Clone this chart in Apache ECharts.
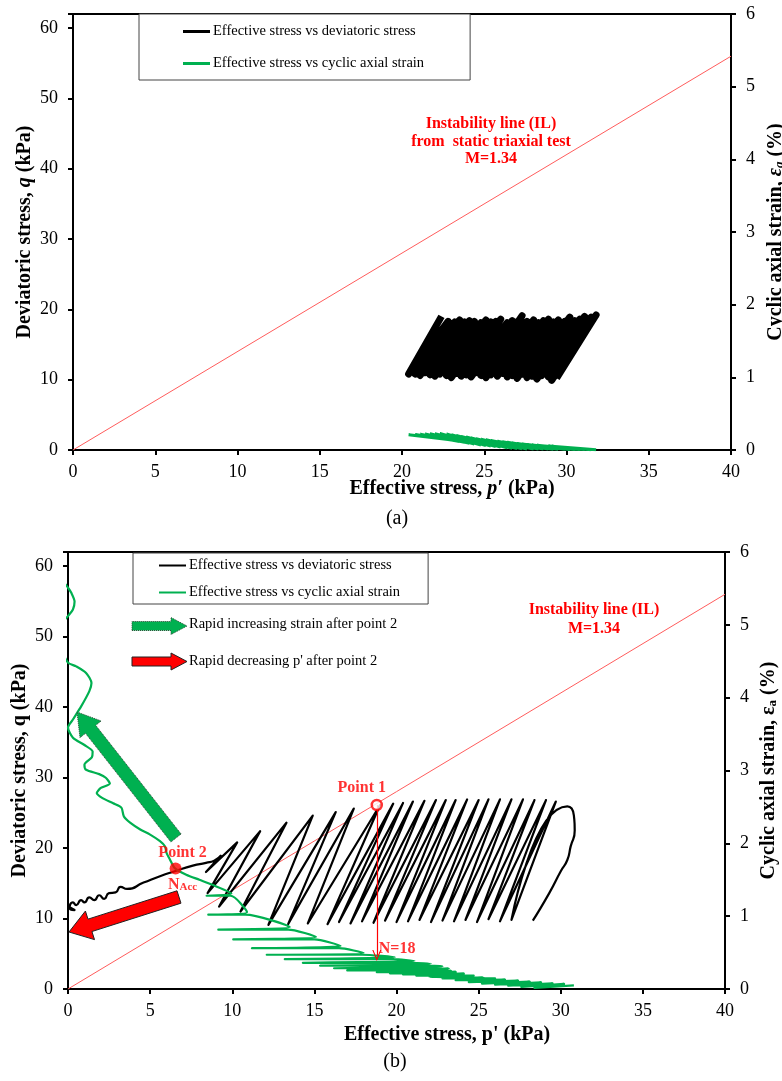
<!DOCTYPE html>
<html>
<head>
<meta charset="utf-8">
<script src="https://cdn.jsdelivr.net/npm/echarts@6/dist/echarts.min.js"></script>
<style>
  html, body { margin: 0; padding: 0; background: #fff; }
  #main { width: 782px; height: 1081px; }
</style>
</head>
<body>
<div id="main"></div>
<script>
// ---- shared ----
const SERIF = '"Liberation Serif", "Times New Roman", serif';
const nameBlack = 'Effective stress vs deviatoric stress';
const nameGreen = 'Effective stress vs cyclic axial strain';
const ilP = [0, 40];
const ilQ = [0, 56];

// ---- panel (a): cycles, p' and q at peaks and troughs ----
const aPeakP = [31.8, 31.5, 31.1, 30.8, 30.5, 30.2, 29.9, 29.5, 29.2, 28.9, 28.6, 28.3, 28.0, 27.6, 27.3, 27.0, 26.7, 26.4, 26.0, 25.7, 25.4, 25.1, 24.8, 24.4, 24.1, 23.8, 23.5, 23.2, 22.8, 22.4];
const aPeakQ = [19.2, 18.9, 19.0, 18.6, 18.4, 18.9, 18.3, 18.5, 18.2, 18.6, 18.4, 18.1, 18.5, 18.3, 19.1, 18.2, 18.4, 18.1, 18.6, 18.3, 18.2, 18.5, 18.1, 18.3, 18.4, 18.2, 18.5, 18.2, 18.3, 19.0];
const aTroughP = [29.4, 29.1, 28.9, 28.5, 28.2, 27.9, 27.6, 27.3, 27.0, 26.7, 26.4, 26.1, 25.8, 25.4, 25.1, 24.8, 24.5, 24.2, 23.9, 23.6, 23.3, 23.0, 22.7, 22.3, 22.0, 21.7, 21.4, 21.1, 20.8, 20.4];
const aTroughQ = [10.2, 9.9, 10.4, 10.6, 10.1, 10.5, 10.3, 10.8, 10.2, 10.6, 10.4, 10.9, 10.5, 10.7, 10.3, 10.6, 11.0, 10.4, 10.7, 10.5, 10.9, 10.3, 10.6, 10.8, 10.5, 10.7, 11.0, 10.6, 10.8, 10.8];
// cyclic axial strain (%) at the same trough / peak points
const aStrainTrough = [0.046, 0.05, 0.054, 0.06, 0.064, 0.069, 0.075, 0.083, 0.09, 0.098, 0.106, 0.114, 0.122, 0.132, 0.14, 0.147, 0.157, 0.167, 0.178, 0.188, 0.199, 0.209, 0.22, 0.229, 0.226, 0.223, 0.22, 0.217, 0.213, 0.21];
const aStrainPeak = [0.004, 0.004, 0.006, 0.006, 0.008, 0.008, 0.01, 0.01, 0.01, 0.012, 0.012, 0.012, 0.012, 0.014, 0.016, 0.02, 0.025, 0.032, 0.041, 0.047, 0.054, 0.061, 0.068, 0.082, 0.093, 0.105, 0.117, 0.129, 0.144, 0.16];

// ---- panel (b): stress path ----
const bRiseP = [28.3, 29.3, 30.0, 30.4, 30.6, 30.85, 30.8];
const bRiseQ = [9.7, 13.6, 16.7, 18.3, 20.2, 22.5, 24.6];
const bPeakP = [30.4, 29.7, 29.1, 28.4, 27.7, 27.0, 26.3, 25.6, 25.0, 24.3, 23.6, 23.0, 22.4, 21.7, 21.0, 20.4, 19.8, 19.0, 17.4, 16.3, 14.9, 13.3, 11.7, 10.3, 9.3];
const bPeakQ = [25.9, 26.6, 26.8, 26.8, 26.9, 26.9, 26.9, 26.9, 26.8, 26.9, 26.8, 26.8, 26.8, 26.7, 26.6, 26.4, 26.3, 26.1, 25.6, 25.1, 24.6, 23.6, 22.4, 20.8, 18.9];
const bTroughP = [27.0, 26.3, 25.6, 24.9, 24.2, 23.5, 22.8, 22.1, 21.4, 20.7, 20.0, 19.3, 18.6, 17.9, 17.2, 16.5, 15.8, 14.6, 13.4, 12.2, 10.5, 9.2, 8.5, 8.4];
const bTroughQ = [9.8, 9.6, 9.9, 9.5, 9.8, 9.6, 9.7, 9.5, 9.8, 9.6, 9.5, 9.7, 9.4, 9.6, 9.3, 9.5, 9.2, 9.3, 9.2, 9.1, 11.0, 11.7, 13.6, 16.6];
const bTailP = [8.9, 8.4, 7.6, 6.5, 5.6, 4.6, 3.6, 3.2, 2.9, 2.5, 2.2, 1.9, 1.6, 1.3, 1.0, 0.8, 0.5, 0.3, 0.1, 0.4, 0.1];
const bTailQ = [18.2, 17.9, 17.5, 16.7, 16.0, 15.1, 14.2, 14.5, 13.7, 13.6, 12.8, 13.3, 12.6, 13.0, 12.3, 12.6, 11.9, 12.3, 11.5, 11.2, 11.6];

// ---- panel (b): strain path ----
const gBandP = [30.8, 28.4, 30.2, 27.6, 29.5, 26.8, 28.8, 26.0, 28.1, 25.2, 27.4, 24.4, 26.6, 23.6, 26.0, 22.8, 25.3, 22.0, 24.7, 21.2, 24.1, 20.4, 23.6, 19.6, 23.3, 18.8];
const gBandS = [0.05, 0.015, 0.07, 0.03, 0.078, 0.045, 0.09, 0.06, 0.10, 0.075, 0.115, 0.095, 0.13, 0.12, 0.145, 0.145, 0.16, 0.165, 0.185, 0.185, 0.21, 0.2, 0.235, 0.215, 0.25, 0.23];
const gEnvP = [23.1, 22.7, 22.0, 21.0, 19.8, 17.9, 16.5, 15.0, 13.4, 10.8, 9.9];
const gLevel = [0.255, 0.285, 0.32, 0.36, 0.41, 0.47, 0.56, 0.68, 0.815, 1.02, 1.28];
const gTipP = [17.0, 16.2, 15.35, 14.3, 13.2, 12.1, 11.2, 10.06, 9.15, 8.54, 8.44];
const gRetP = [23.2, 22.8, 22.1, 21.1, 19.9, 18.0, 16.6, 15.1, 13.5, 10.9, 9.95];
const gRetS = [0.28, 0.31, 0.345, 0.385, 0.435, 0.495, 0.59, 0.715, 0.85, 1.055, 1.31];
const gRiseP = [8.8, 8.0, 7.2, 6.5, 6.2, 6.0, 5.9, 5.6, 5.0, 4.4, 3.8, 3.4, 3.25, 2.75, 2.1, 1.75, 2.0, 2.55, 2.3, 1.9, 1.1, 1.0, 1.45, 1.5, 1.0, 0.3, 0.0, 0.3, 0.8, 1.3, 1.43, 1.1, 0.5, 0.0, -0.4, -0.4, 0.0, 0.3, 0.4, 0.2, 0.0, -0.3];
const gRiseS = [1.43, 1.50, 1.57, 1.66, 1.78, 1.87, 1.96, 2.03, 2.12, 2.19, 2.28, 2.37, 2.49, 2.55, 2.62, 2.69, 2.76, 2.82, 2.90, 2.95, 3.01, 3.08, 3.18, 3.26, 3.35, 3.45, 3.59, 3.70, 3.88, 4.09, 4.20, 4.34, 4.43, 4.48, 4.70, 5.00, 5.12, 5.21, 5.32, 5.44, 5.51, 5.60];

// marked points (p', q) and strain at N=18
const point1 = [18.8, 26.1];
const point2 = [6.55, 17.1];
const n18Strain = 0.46;

// ---- build paths ----
function pairs(xs, ys) {
    return xs.map(function (x, i) { return [x, ys[i]]; });
}

function zigzag(tp, tq, pp, pq) {
    const pts = [];
    for (let i = 0; i < tp.length; i++) {
        pts.push([tp[i], tq[i]]);
        pts.push([pp[i], pq[i]]);
    }
    return pts;
}

const aBlack = zigzag(aTroughP, aTroughQ, aPeakP, aPeakQ);
const aGreen = zigzag(aTroughP, aStrainTrough, aPeakP, aStrainPeak);

const bBlack = pairs(bRiseP, bRiseQ);
for (let i = 0; i < bPeakP.length; i++) {
    bBlack.push([bPeakP[i], bPeakQ[i]]);
    if (i < bTroughP.length) bBlack.push([bTroughP[i], bTroughQ[i]]);
}
pairs(bTailP, bTailQ).forEach(function (pt) { bBlack.push(pt); });

const bGreen = pairs(gBandP, gBandS);
for (let i = 0; i < gEnvP.length; i++) {
    bGreen.push([gEnvP[i], gLevel[i]]);
    bGreen.push([gTipP[i], gLevel[i]]);
    bGreen.push([gRetP[i], gRetS[i]]);
}
pairs(gRiseP, gRiseS).forEach(function (pt) { bGreen.push(pt); });

// ---- chart ----
function blockArrow(x1, y1, x2, y2, bodyW, headW, headL) {
    const dx = x2 - x1, dy = y2 - y1, len = Math.hypot(dx, dy);
    const ux = dx / len, uy = dy / len, nx = -uy, ny = ux;
    const bx = x2 - ux * headL, by = y2 - uy * headL;
    return [
        [x1 + nx * bodyW / 2, y1 + ny * bodyW / 2],
        [bx + nx * bodyW / 2, by + ny * bodyW / 2],
        [bx + nx * headW / 2, by + ny * headW / 2],
        [x2, y2],
        [bx - nx * headW / 2, by - ny * headW / 2],
        [bx - nx * bodyW / 2, by - ny * bodyW / 2],
        [x1 - nx * bodyW / 2, y1 - ny * bodyW / 2]
    ];
}

const titleRich = {
    b: { fontFamily: SERIF, fontWeight: 'bold', fontSize: 20, color: '#000' },
    i: { fontFamily: SERIF, fontWeight: 'bold', fontStyle: 'italic', fontSize: 20, color: '#000' },
    s: { fontFamily: SERIF, fontWeight: 'bold', fontStyle: 'italic', fontSize: 13, color: '#000', verticalAlign: 'bottom' },
    su: { fontFamily: SERIF, fontWeight: 'bold', fontSize: 13, color: '#000', verticalAlign: 'bottom' }
};

function axisBase(grid) {
    return {
        type: 'value',
        gridIndex: grid,
        nameMoveOverlap: false,
        axisLine: { show: true, onZero: false, lineStyle: { color: '#000', width: 2 } },
        axisTick: { show: true, inside: false, length: 5, lineStyle: { color: '#000', width: 2 } },
        splitLine: { show: false },
        axisLabel: { color: '#000', fontFamily: SERIF, fontSize: 18, margin: 13 },
        nameTextStyle: { rich: titleRich }
    };
}

function xAxisFor(grid, name, gap, shift) {
    const ax = axisBase(grid);
    ax.min = 0; ax.max = 40; ax.interval = 5;
    ax.name = name;
    ax.nameLocation = 'middle';
    ax.nameGap = gap;
    ax.nameTextStyle = { rich: titleRich, padding: [0, 0, 0, shift] };
    return ax;
}

function qAxisFor(grid, name, gap) {
    const ax = axisBase(grid);
    ax.min = 0; ax.max = 62; ax.interval = 10;
    ax.position = 'left';
    ax.axisLabel.margin = 15;
    ax.axisLabel.formatter = function (v) { return v % 10 === 0 ? String(v) : ''; };
    ax.name = name;
    ax.nameLocation = 'middle';
    ax.nameGap = gap;
    ax.nameRotate = 90;
    return ax;
}

function strainAxisFor(grid, name, gap) {
    const ax = axisBase(grid);
    ax.min = 0; ax.max = 6; ax.interval = 1;
    ax.position = 'right';
    ax.axisLabel.margin = 15;
    ax.name = name;
    ax.nameLocation = 'middle';
    ax.nameGap = gap;
    ax.nameRotate = 90;
    return ax;
}

const red = '#ff0000';
const ilColor = '#ff5c5c';
const green = '#00b050';

function redText(x, y, text, size) {
    return {
        type: 'text', x: x, y: y, z: 20,
        style: {
            text: text, fill: red, align: 'center', verticalAlign: 'middle',
            font: 'bold ' + (size || 16) + 'px ' + SERIF
        }
    };
}

function plainText(x, y, text, size, align) {
    return {
        type: 'text', x: x, y: y, z: 20,
        style: {
            text: text, fill: '#000', align: align || 'left', verticalAlign: 'middle',
            font: (size || 14.5) + 'px ' + SERIF
        }
    };
}

let myChart = echarts.init(document.getElementById('main'), null, { renderer: 'canvas' });

let option = {
    backgroundColor: '#fff',
    animation: false,
    grid: [
        { left: 73, top: 14, width: 658, height: 436, show: true, borderColor: '#000', borderWidth: 2, containLabel: false, outerBoundsMode: 'none' },
        { left: 68, top: 552, width: 657, height: 437, show: true, borderColor: '#000', borderWidth: 2, containLabel: false, outerBoundsMode: 'none' }
    ],
    xAxis: [
        xAxisFor(0, '{b|Effective stress, }{i|p′}{b| (kPa)}', 29, 100),
        xAxisFor(1, "{b|Effective stress, p' (kPa)}", 36, 101)
    ],
    yAxis: [
        qAxisFor(0, '{b|Deviatoric stress, }{i|q}{b| (kPa)}', 38),
        strainAxisFor(0, '{b|Cyclic axial strain, }{i|ε}{s|a}{b| (%)}', 35),
        qAxisFor(1, '{b|Deviatoric stress, q (kPa)}', 38),
        strainAxisFor(1, '{b|Cyclic axial strain, ε}{su|a}{b| (%)}', 34)
    ],
    legend: [
        {
            left: 139, top: 14, orient: 'vertical',
            data: [nameBlack, nameGreen],
            icon: 'rect', itemWidth: 27, itemHeight: 3, itemGap: 17,
            padding: [10, 46, 9, 44],
            borderColor: '#444', borderWidth: 1, backgroundColor: '#fff',
            selectedMode: false,
            textStyle: { fontFamily: SERIF, fontSize: 14.5, color: '#000', padding: [0, 0, 0, -2] }
        },
        {
            left: 133, top: 553, orient: 'vertical',
            data: [nameBlack, nameGreen],
            icon: 'rect', itemWidth: 27, itemHeight: 2, itemGap: 12,
            padding: [5, 28, 4, 26],
            borderColor: '#444', borderWidth: 1, backgroundColor: '#fff',
            selectedMode: false,
            textStyle: { fontFamily: SERIF, fontSize: 14.5, color: '#000', padding: [0, 0, 0, -2] }
        }
    ],
    series: [
        // panel (a)
        {
            name: 'IL a', type: 'line', xAxisIndex: 0, yAxisIndex: 0,
            data: pairs(ilP, ilQ), symbol: 'none',
            lineStyle: { color: ilColor, width: 1 }, z: 3
        },
        {
            name: nameBlack, type: 'line', xAxisIndex: 0, yAxisIndex: 0,
            data: aBlack, symbol: 'none', color: '#000',
            lineStyle: { color: '#000', width: 7, join: 'round' }, z: 4
        },
        {
            name: nameGreen, type: 'line', xAxisIndex: 0, yAxisIndex: 1,
            data: aGreen, symbol: 'none', color: green,
            lineStyle: { color: green, width: 3 }, z: 4
        },
        // panel (b)
        {
            name: 'IL b', type: 'line', xAxisIndex: 1, yAxisIndex: 2,
            data: pairs(ilP, ilQ), symbol: 'none',
            lineStyle: { color: ilColor, width: 1 }, z: 3
        },
        {
            name: nameBlack, type: 'line', xAxisIndex: 1, yAxisIndex: 2,
            data: bBlack, symbol: 'none', color: '#000', smooth: 0.6,
            lineStyle: { color: '#000', width: 2.2, join: 'round' }, z: 4
        },
        {
            name: nameGreen, type: 'line', xAxisIndex: 1, yAxisIndex: 3,
            data: bGreen, symbol: 'none', color: green, smooth: 0.25,
            lineStyle: { color: green, width: 2.2, join: 'round' }, z: 4
        },
        {
            name: 'N=18', type: 'scatter', xAxisIndex: 1, yAxisIndex: 3,
            data: [[point1[0], n18Strain]], symbolSize: 0, z: 6,
            label: {
                show: true, position: 'right', offset: [-3, -7], formatter: 'N=18',
                color: red, fontFamily: SERIF, fontWeight: 'bold', fontSize: 16
            },
            markLine: {
                silent: true, animation: false,
                symbol: ['none', 'path://M5,0 L10,9 L8.8,9 L5,2.2 L1.2,9 L0,9 Z'],
                symbolSize: [9, 11],
                label: { show: false },
                lineStyle: { color: red, width: 1.2, type: 'solid' },
                data: [[
                    { coord: [point1[0], point1[1] * 6 / 62] },
                    { coord: [point1[0], n18Strain] }
                ]]
            }
        },
        {
            name: 'Point 1', type: 'scatter', xAxisIndex: 1, yAxisIndex: 2,
            data: [point1], symbol: 'circle', symbolSize: 10, z: 8,
            itemStyle: { color: '#fff', borderColor: red, borderWidth: 2.5 },
            label: {
                show: true, position: 'top', distance: 3, offset: [-15, 0], formatter: 'Point 1',
                color: red, fontFamily: SERIF, fontWeight: 'bold', fontSize: 16
            }
        },
        {
            name: 'Point 2', type: 'scatter', xAxisIndex: 1, yAxisIndex: 2,
            data: [
                {
                    value: point2,
                    label: { show: true, position: 'top', distance: 2, offset: [7, 0], formatter: 'Point 2' }
                },
                {
                    value: point2, symbolSize: 0,
                    label: {
                        show: true, position: 'bottom', distance: 8, offset: [7, 0],
                        formatter: '{n|N}{s|Acc}',
                        rich: {
                            n: { color: red, fontFamily: SERIF, fontWeight: 'bold', fontSize: 16 },
                            s: { color: red, fontFamily: SERIF, fontWeight: 'bold', fontSize: 11, verticalAlign: 'bottom' }
                        }
                    }
                }
            ],
            symbol: 'circle', symbolSize: 12, z: 8,
            itemStyle: { color: red },
            label: { color: red, fontFamily: SERIF, fontWeight: 'bold', fontSize: 16 }
        }
    ],
    graphic: [
        // panel (a) notes
        redText(491, 124, 'Instability line (IL)'),
        redText(491, 142, 'from  static triaxial test'),
        redText(491, 159, 'M=1.34'),
        plainText(397, 519, '(a)', 20, 'center'),
        // panel (b) notes
        redText(594, 610, 'Instability line (IL)'),
        redText(594, 629, 'M=1.34'),
        plainText(395, 1062, '(b)', 20, 'center'),
        {
            type: 'polygon', z: 15,
            shape: { points: blockArrow(132, 626, 187, 626, 9, 17, 16) },
            style: { fill: green, stroke: '#2f4f3a', lineWidth: 1, lineDash: [1, 1] }
        },
        plainText(189, 624, 'Rapid increasing strain after point 2'),
        {
            type: 'polygon', z: 15,
            shape: { points: blockArrow(132, 661.5, 187, 661.5, 9, 17, 16) },
            style: { fill: red, stroke: '#222', lineWidth: 1 }
        },
        plainText(189, 661, "Rapid decreasing p' after point 2"),
        {
            type: 'polygon', z: 15,
            shape: { points: blockArrow(176, 838, 77, 712, 13, 27, 22) },
            style: { fill: green, stroke: '#2f4f3a', lineWidth: 1, lineDash: [1, 1] }
        },
        {
            type: 'polygon', z: 15,
            shape: { points: blockArrow(179, 897, 69, 932, 13, 30, 22) },
            style: { fill: red, stroke: '#222', lineWidth: 1 }
        }
    ]
};

myChart.setOption(option);
</script>
</body>
</html>
